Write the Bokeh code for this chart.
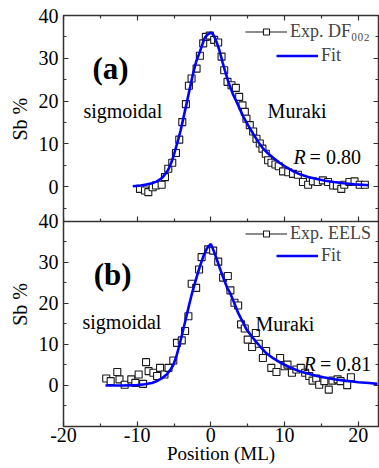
import math
from bokeh.plotting import figure
from bokeh.layouts import row
from bokeh.models import (Range1d, LinearAxis, FixedTicker, Span, Label, Legend,
                          LegendItem, CustomJSTickFormatter)
from bokeh.embed import file_html
from bokeh.resources import INLINE

# ---------------- data ----------------
# panel (a): DF002 profile
a_exp_x = [-9.62, -8.94, -8.49, -7.9, -7.45, -6.68, -6.23, -5.78, -5.24, -4.74, -4.29, -3.88,
           -3.39, -2.98, -2.62, -1.94, -1.49, -1.04, -0.68, -0.14, 0.45, 0.99, 1.45, 1.81,
           2.26, 2.8, 3.39, 3.84, 4.29, 4.61, 4.83, 5.28, 5.74, 6.19, 6.64, 7.0, 7.45, 7.77,
           8.22, 8.76, 9.21, 9.8, 10.5, 11.15, 11.8, 12.5, 13.2, 13.85, 14.5, 15.2, 15.9,
           16.6, 17.1, 17.7, 18.1, 18.8, 19.5, 20.2, 20.9]
a_exp_y = [-0.5, -0.87, -1.26, -0.1, 0.3, 0.47, 2.25, 4.2, 5.6, 7.9, 11.0, 15.1,
           19.3, 23.6, 25.3, 27.6, 30.6, 33.5, 35.0, 35.3, 34.3, 33.7, 30.4, 27.2,
           24.5, 23.7, 23.1, 21.0, 19.0, 17.5, 15.9, 14.4, 12.9, 11.2, 10.1, 8.9, 7.7, 6.2,
           5.6, 5.2, 4.8, 3.6, 3.4, 3.0, 2.8, 1.1, 0.47, 1.25, 1.1, 1.5, 1.1,
           0.3, 0.3, -0.5, 0.47, 1.1, 1.25, 0.47, 0.47]
a_fit_x = [-10.6, -9.5, -8.8, -8.0, -7.4, -6.9, -6.5, -6.1, -5.8, -5.4, -5.1, -4.8, -4.45,
           -4.1, -3.8, -3.4, -3.1, -2.7, -2.4, -2.0, -1.5, -1.1, -0.8, -0.4, 0.0, 0.3, 0.6,
           0.9, 1.2, 1.6, 1.9, 2.3, 2.6, 3.0, 3.5, 4.0, 4.4, 5.0, 5.8, 6.5, 7.1, 7.8, 8.5,
           9.3, 10.3, 11.2, 12.1, 13.2, 14.4, 15.5, 16.7, 18.0, 19.5, 21.0, 21.4]
a_fit_y = [0.1, 0.3, 0.5, 0.8, 1.2, 1.7, 2.3, 3.2, 3.9, 5.5, 7.0, 8.8, 10.9,
           13.2, 15.5, 18.6, 21.0, 24.2, 26.5, 29.2, 31.5, 33.5, 34.9, 35.6, 36.0, 35.6, 34.6,
           33.2, 31.6, 29.0, 27.2, 24.9, 23.4, 21.6, 19.8, 17.9, 16.4, 14.5, 12.2, 10.3, 8.9, 7.7, 6.7,
           5.6, 4.5, 3.6, 2.9, 2.3, 1.8, 1.4, 1.1, 0.8, 0.55, 0.4, 0.35]

# panel (b): EELS profile
b_exp_x = [-14.2, -13.6, -12.7, -12.4, -11.7, -10.8, -10.25, -9.8, -9.2, -8.8, -8.45, -7.8,
           -7.3, -6.9, -6.3, -5.75, -5.1, -4.6, -3.95, -3.5, -3.05, -2.6, -2.0, -1.6, -1.26,
           -0.36, 0.31, 1.0, 1.66, 2.3, 2.65, 3.2, 3.7, 4.1, 4.6, 5.0, 5.6, 6.1, 6.5, 7.06,
           7.5, 8.2, 8.9, 9.4, 10.0, 10.4, 11.0, 11.6, 12.2, 12.8, 13.35, 13.8, 14.3, 14.7,
           15.4, 16.0, 16.5, 17.2, 17.6, 18.5, 19.0]
b_exp_y = [1.7, 1.06, 3.3, 1.5, 0.2, 1.5, 0.65, 2.7, 0.4, 5.7, 3.5, 3.1,
           2.3, 4.3, 2.7, 4.3, 6.1, 10.4, 11.0, 13.3, 16.9, 24.8, 23.8, 28.3, 31.3,
           33.2, 32.9, 30.2, 26.3, 26.7, 23.2, 20.2, 19.5, 14.9, 13.9, 11.2, 9.4, 12.8, 10.2, 6.7,
           8.4, 4.3, 3.3, 6.7, 4.7, 5.1, 3.1, 3.9, 4.3, 3.1, 2.3, 1.2, 1.7, 0.2,
           1.06, -1.0, 1.2, 1.5, 1.06, 0.08, 2.0]
b_fit_x = [-14.3, -12.0, -10.0, -9.0, -8.0, -7.3, -6.6, -6.0, -5.5, -5.1, -4.7, -4.2, -3.8,
           -3.5, -3.0, -2.6, -2.0, -1.5, -1.0, -0.6, -0.3, 0.0, 0.4, 0.8, 1.2, 1.7, 2.2, 2.6,
           3.2, 3.7, 4.3, 4.8, 5.5, 6.2, 7.0, 7.5, 8.5, 9.7, 11.0, 12.0, 13.0, 14.2, 15.3,
           16.5, 17.6, 18.7, 20.0, 21.5, 22.6]
b_fit_y = [0.0, 0.0, 0.1, 0.3, 0.6, 1.1, 1.8, 2.7, 3.8, 5.0, 7.0, 10.3, 13.3,
           15.5, 19.3, 22.2, 26.0, 29.0, 31.6, 33.2, 34.0, 34.5, 32.8, 30.8, 28.7, 26.2, 23.9, 22.6,
           20.0, 17.7, 15.6, 13.8, 12.1, 10.5, 8.9, 7.9, 6.6, 5.3, 4.2, 3.5, 3.0, 2.4, 2.0,
           1.6, 1.3, 1.1, 0.8, 0.6, 0.4]

x_ticks = [-20, -10, 0, 10, 20]
x_minor = [-15, -5, 5, 15]
y_ticks = [0, 10, 20, 30, 40]
y_minor = [-5, 5, 15, 25, 35]

# ---------------- figure ----------------
FONT = "Liberation Serif"
AX = "#333333"
BLUE = "#0000ff"

XMIN, XMAX = -20, 22.75
B_LO, B_HI = -10, 90.24   # lower panel scale (default range)
T_LO, T_HI = -56, 40      # upper panel scale ("top" range)

STRIP_W = 30              # narrow strip at the left that carries the rotated y titles

p = figure(width=379 - STRIP_W, height=468, x_range=Range1d(XMIN, XMAX),
           y_range=Range1d(B_LO, B_HI),
           x_axis_location=None, y_axis_location=None, toolbar_location=None,
           output_backend="svg", min_border_left=63 - STRIP_W, min_border_right=1,
           min_border_top=15, min_border_bottom=42)
p.extra_y_ranges = {"top": Range1d(T_LO, T_HI)}
p.xgrid.visible = False
p.ygrid.visible = False
p.outline_line_color = AX
p.outline_line_width = 1.5
p.background_fill_color = "white"
p.border_fill_color = "white"

blank = CustomJSTickFormatter(code="return ''")


def to_lower(v):
    """position of an upper-panel value on the lower-panel (default) range"""
    return B_LO + (v - T_LO) * (B_HI - B_LO) / (T_HI - T_LO)


def style_axis(ax, labels):
    ax.axis_line_color = None
    ax.major_tick_line_color = AX
    ax.minor_tick_line_color = AX
    ax.major_tick_line_width = 1.2
    ax.minor_tick_line_width = 1.2
    ax.major_tick_in = 5
    ax.major_tick_out = 0
    ax.minor_tick_in = 3
    ax.minor_tick_out = 0
    ax.major_label_text_font = FONT
    ax.major_label_text_font_size = "20px"
    ax.major_label_text_color = "black"
    if not labels:
        ax.formatter = blank
    return ax


def tick_axis(fixed, ticks, minor, y_range_name="default"):
    ax = LinearAxis(fixed_location=fixed, y_range_name=y_range_name,
                    ticker=FixedTicker(ticks=ticks, minor_ticks=minor))
    return style_axis(ax, False)


# bottom x axis with labels and title
ax_b = style_axis(LinearAxis(ticker=FixedTicker(ticks=x_ticks, minor_ticks=x_minor)), True)
ax_b.formatter = CustomJSTickFormatter(code="return String(tick);")
ax_b.major_label_standoff = 1
ax_b.axis_label = "Position (ML)"
ax_b.axis_label_text_font = FONT
ax_b.axis_label_text_font_size = "19px"
ax_b.axis_label_text_font_style = "normal"
ax_b.axis_label_text_color = "black"
ax_b.axis_label_standoff = -2
p.add_layout(ax_b, "below")
# tick-only axes: panel divider and top edge
p.add_layout(tick_axis(40, x_ticks, x_minor), "below")
p.add_layout(tick_axis(B_HI, x_ticks, x_minor), "above")

# left axis: ticks of both panels, each labelled in its own panel's units
left_major = y_ticks + [to_lower(v) for v in y_ticks]
left_minor = y_minor + [to_lower(v) for v in y_minor]
ay = style_axis(LinearAxis(ticker=FixedTicker(ticks=left_major, minor_ticks=left_minor)), True)
ay.formatter = CustomJSTickFormatter(
    args=dict(blo=B_LO, bhi=B_HI, tlo=T_LO, thi=T_HI),
    code="""
    const v = tick > 44 ? tlo + (tick - blo) * (thi - tlo) / (bhi - blo) : tick;
    return Math.round(v).toString();
    """)
ay.major_label_standoff = 5
p.add_layout(ay, "left")
# right edge ticks
p.add_layout(tick_axis(XMAX, y_ticks, y_minor), "right")
p.add_layout(tick_axis(XMAX, y_ticks, y_minor, "top"), "right")

# divider between the panels
p.add_layout(Span(location=40, dimension="width", line_color=AX, line_width=1.5))

# ---------------- data glyphs ----------------
sq = dict(marker="square", size=7, fill_color="white", line_color="#1a1a1a", line_width=1.1)
a_leg_line = p.line(a_exp_x, a_exp_y, line_color="#1a1a1a", line_width=1.1,
                    y_range_name="top", visible=False)
a_sc = p.scatter(a_exp_x, a_exp_y, y_range_name="top", **sq)
a_fit = p.line(a_fit_x, a_fit_y, line_color=BLUE, line_width=2.6, y_range_name="top")

b_leg_line = p.line(b_exp_x, b_exp_y, line_color="#1a1a1a", line_width=1.1, visible=False)
b_sc = p.scatter(b_exp_x, b_exp_y, **sq)
b_fit = p.line(b_fit_x, b_fit_y, line_color=BLUE, line_width=2.6)


def add_legend(label, renderers, loc):
    lg = Legend(items=[LegendItem(label=label, renderers=renderers)], location=loc,
                glyph_width=42, glyph_height=15, label_standoff=3, padding=0, margin=0,
                spacing=0, border_line_color=None, background_fill_alpha=0,
                inactive_fill_alpha=0, label_text_font=FONT, label_text_font_size="18px",
                label_height=15, label_text_baseline="middle")
    p.add_layout(lg)


add_legend("Exp. DF\u2080\u2080\u2082", [a_leg_line, a_sc], (182, 384))
add_legend("Fit", [a_fit], (213, 360))
add_legend("Exp. EELS", [b_leg_line, b_sc], (182, 182))
add_legend("Fit", [b_fit], (213, 160))


# ---------------- texts inside the panels ----------------
def lab(text, x, y, size, rng="default", style="normal", align="left",
        baseline="alphabetic", angle=0.0):
    p.add_layout(Label(x=x, y=y, text=text, y_range_name=rng, text_font=FONT,
                       text_font_size=f"{size}px", text_font_style=style,
                       text_align=align, text_baseline=baseline, angle=angle,
                       text_color="black"))


lab("(a)", -16.06, 27.6, 31, "top", "bold")
lab("sigmoidal", -17.3, 17.6, 20, "top")
lab("Muraki", 7.7, 17.6, 20, "top")
lab("R", 11.2, 6.9, 20, "top", "italic")
lab("= 0.80", 13.4, 6.9, 20, "top")

lab("(b)", -15.9, 27.1, 31, style="bold")
lab("sigmoidal", -17.42, 15.5, 20)
lab("Muraki", 6.06, 15.0, 20)
lab("R", 12.57, 5.3, 20, style="italic")
lab("= 0.81", 14.8, 5.3, 20)

# ---------------- strip with the two rotated y titles ----------------
s = figure(width=STRIP_W, height=468, x_range=Range1d(0, STRIP_W), y_range=Range1d(0, 468),
           x_axis_location=None, y_axis_location=None, toolbar_location=None,
           output_backend="svg", min_border=0)
s.xgrid.visible = False
s.ygrid.visible = False
s.outline_line_color = None
s.background_fill_color = "white"
s.border_fill_color = "white"
for cy in (468 - 118, 468 - 329):
    s.add_layout(Label(x=19, y=cy, text="Sb %", text_font=FONT, text_font_size="20px",
                       text_align="center", text_baseline="middle", angle=math.pi / 2,
                       text_color="black"))

layout = row(s, p, spacing=0)
open("out.html", "w").write(file_html(layout, INLINE))
